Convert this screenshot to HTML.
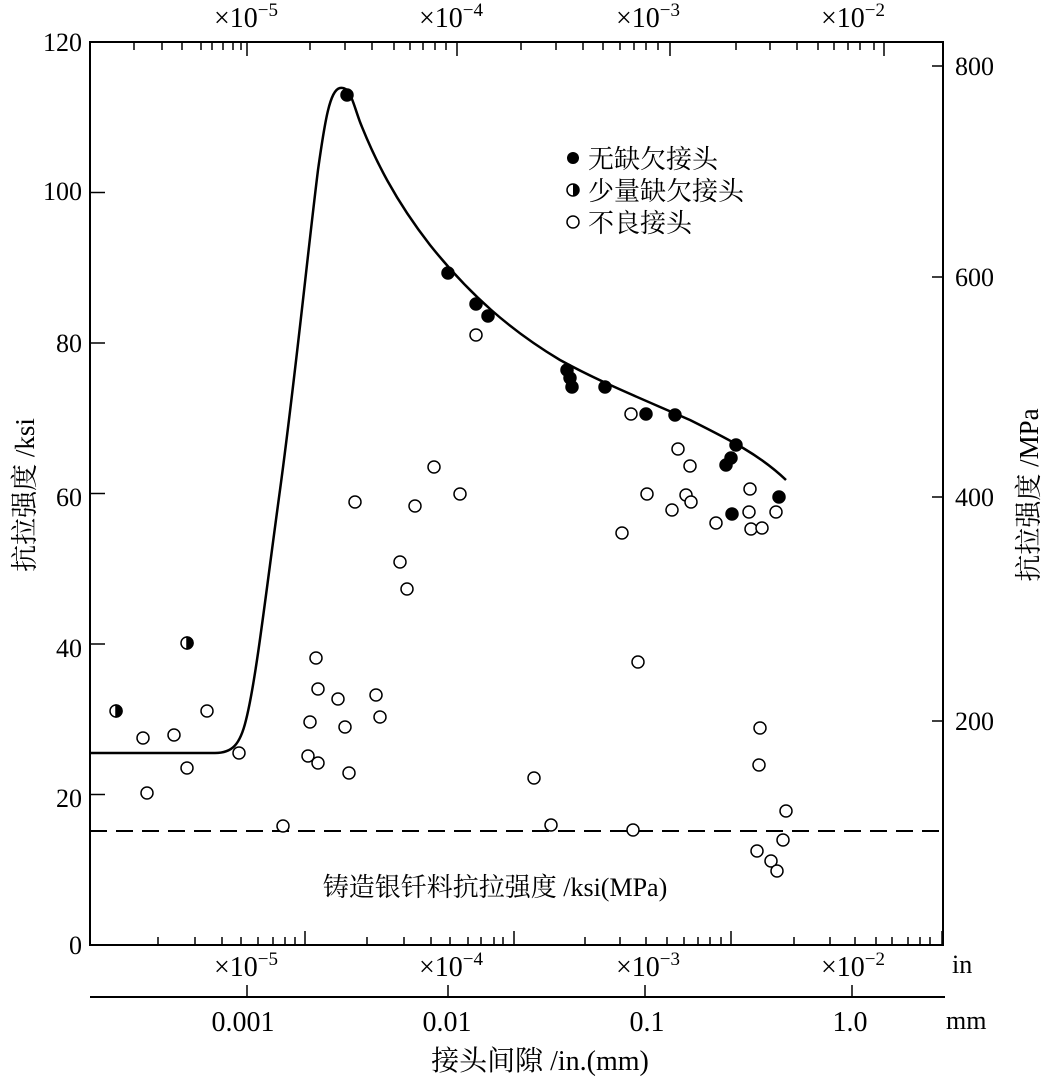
<!DOCTYPE html>
<html><head><meta charset="utf-8"><style>
html,body{margin:0;padding:0;background:#fff}
svg{display:block}
text{font-family:"Liberation Serif","Noto Serif CJK SC",serif;fill:#000}
</style></head><body>
<svg width="1044" height="1079" viewBox="0 0 1044 1079" xmlns="http://www.w3.org/2000/svg">
<rect x="90" y="42" width="853" height="903" fill="none" stroke="#000" stroke-width="2"/>
<g stroke="#000" stroke-width="1.5" id="ticks"></g>
<g font-size="26" text-anchor="end">
<text x="82" y="954">0</text><text x="82" y="807">20</text><text x="82" y="657">40</text>
<text x="82" y="506">60</text><text x="82" y="352">80</text><text x="82" y="200">100</text><text x="82" y="51">120</text>
</g>
<g font-size="26">
<text x="955" y="75">800</text><text x="955" y="286">600</text><text x="955" y="506">400</text><text x="955" y="730">200</text>
</g>
<g font-size="28" text-anchor="middle">
<text x="246" y="27">×10<tspan dy="-11" font-size="19">−5</tspan></text>
<text x="451" y="27">×10<tspan dy="-11" font-size="19">−4</tspan></text>
<text x="648" y="27">×10<tspan dy="-11" font-size="19">−3</tspan></text>
<text x="853" y="27">×10<tspan dy="-11" font-size="19">−2</tspan></text>
<text x="246" y="976">×10<tspan dy="-11" font-size="19">−5</tspan></text>
<text x="451" y="976">×10<tspan dy="-11" font-size="19">−4</tspan></text>
<text x="648" y="976">×10<tspan dy="-11" font-size="19">−3</tspan></text>
<text x="853" y="976">×10<tspan dy="-11" font-size="19">−2</tspan></text>
<text x="243" y="1031">0.001</text><text x="447" y="1031">0.01</text><text x="647" y="1031">0.1</text><text x="850" y="1031">1.0</text>
</g>
<text x="952" y="973" font-size="26">in</text>
<text x="946" y="1029" font-size="26">mm</text>
<line x1="90" y1="997" x2="945" y2="997" stroke="#000" stroke-width="2"/>
<g stroke="#000" stroke-width="1.5">
<line x1="247" y1="997" x2="247" y2="985"/><line x1="448" y1="997" x2="448" y2="985"/>
<line x1="645" y1="997" x2="645" y2="985"/><line x1="852" y1="997" x2="852" y2="985"/>
</g>
<text x="540" y="1070" font-size="28" text-anchor="middle">接头间隙 /in.(mm)</text>
<text transform="translate(34,495) rotate(-90)" font-size="27" text-anchor="middle">抗拉强度 /ksi</text>
<text transform="translate(1038,495) rotate(-90)" font-size="27" text-anchor="middle">抗拉强度 /MPa</text>
<line x1="90" y1="831" x2="943" y2="831" stroke="#000" stroke-width="2" stroke-dasharray="17,9"/>
<text x="495" y="896" font-size="26" text-anchor="middle">铸造银钎料抗拉强度 /ksi(MPa)</text>
<path d="M90,753 L215,753 C232,753 240,745 246,720 C256,680 265,600 280,490 C295,380 308,250 318,170 C325,120 330,90 340,88 C350,86 352,100 360,122 C375,160 395,200 430,245 C470,295 510,330 560,360 C600,382 640,398 690,420 C730,440 760,455 786,480" fill="none" stroke="#000" stroke-width="2.5"/>
<g id="pts" stroke="#000" stroke-width="1.5"></g>
<g font-size="26">
<circle cx="573" cy="158" r="6"/><text x="588" y="168">无缺欠接头</text>
<circle cx="573" cy="190" r="6" fill="#fff" stroke="#000" stroke-width="1.5"/><path d="M573,184 A6,6 0 0 1 573,196 Z"/><text x="588" y="200">少量缺欠接头</text>
<circle cx="573" cy="222" r="6" fill="#fff" stroke="#000" stroke-width="1.5"/><text x="588" y="232">不良接头</text>
</g>
</svg>
<script>
var ns="http://www.w3.org/2000/svg";
function el(p,t,a){var e=document.createElementNS(ns,t);for(var k in a)e.setAttribute(k,a[k]);p.appendChild(e);return e;}
var T=document.getElementById('ticks');
var topT=[[134,162,182,201,212,223,233,241,247],[310,345,372,394,410,423,435,446,457],[521,556,583,603,620,634,646,658,670],[736,770,797,818,834,848,860,874,884]];
var botT=[[158,195,222,241,258,273,285,295,305],[367,404,431,450,468,481,494,503,514],[585,620,646,667,684,698,710,721,731],[794,830,855,876,892,908,920,930,942]];
topT.forEach(function(g){g.forEach(function(x,i){var L=i==8?14:8;el(T,'line',{x1:x,y1:42,x2:x,y2:42+L});});});
botT.forEach(function(g){g.forEach(function(x,i){var L=i==8?14:8;el(T,'line',{x1:x,y1:945,x2:x,y2:945-L});});});
[945,794.5,644,493.5,343,192.5].forEach(function(y){el(T,'line',{x1:90,y1:y,x2:105,y2:y});});
[66,277,497,721].forEach(function(y){el(T,'line',{x1:943,y1:y,x2:932,y2:y});});
var P=document.getElementById('pts');
var filled=[[347,95],[448,273],[476,304],[488,316],[567,370],[570,378],[572,387],[605,387],[646,414],[675,415],[726,465],[731,458],[736,445],[732,514],[779,497]];
var half=[[116,711],[187,643]];
var open=[[143,738],[147,793],[174,735],[187,768],[207,711],[239,753],[283,826],[308,756],[310,722],[316,658],[318,689],[318,763],[338,699],[345,727],[349,773],[355,502],[376,695],[380,717],[400,562],[407,589],[415,506],[434,467],[460,494],[476,335],[534,778],[551,825],[622,533],[631,414],[638,662],[633,830],[647,494],[672,510],[678,449],[686,495],[690,466],[691,502],[716,523],[750,489],[749,512],[751,529],[762,528],[776,512],[760,728],[759,765],[757,851],[771,861],[777,871],[783,840],[786,811]];
open.forEach(function(p){el(P,'circle',{cx:p[0],cy:p[1],r:6,fill:'#fff'});});
filled.forEach(function(p){el(P,'circle',{cx:p[0],cy:p[1],r:6,fill:'#000'});});
half.forEach(function(p){el(P,'circle',{cx:p[0],cy:p[1],r:6,fill:'#fff'});el(P,'path',{d:'M'+p[0]+','+(p[1]-6)+' A6,6 0 0 1 '+p[0]+','+(p[1]+6)+' Z',fill:'#000'});});
</script>
</body></html>
